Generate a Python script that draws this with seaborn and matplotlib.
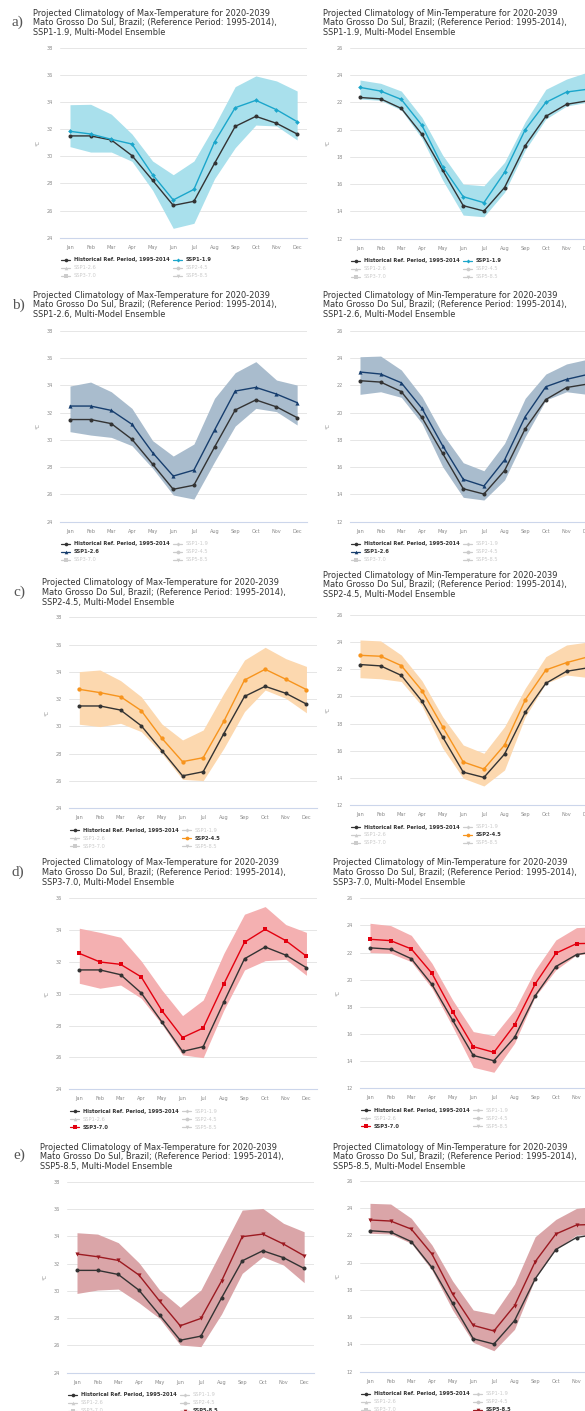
import matplotlib
matplotlib.use("Agg")
import matplotlib.pyplot as plt
import numpy as np
import pandas as pd
import seaborn as sns
from matplotlib.lines import Line2D

# ---------------------------------------------------------------- data
MONTHS = ["Jan", "Feb", "Mar", "Apr", "May", "Jun",
          "Jul", "Aug", "Sep", "Oct", "Nov", "Dec"]
HIST_LABEL = "Historical Ref. Period, 1995-2014"
SCENARIOS = ["SSP1-1.9", "SSP1-2.6", "SSP2-4.5", "SSP3-7.0", "SSP5-8.5"]

tmax_hist = [31.5, 31.5, 31.2, 30.05, 28.23, 26.38, 26.68, 29.48, 32.2, 32.94, 32.43, 31.64]
tmin_hist = [22.35, 22.25, 21.55, 19.65, 17.02, 14.42, 14.03, 15.75, 18.82, 20.97, 21.85, 22.1]

# SSP1-1.9
tmax_ssp119 = [31.84, 31.64, 31.25, 30.9, 28.64, 26.78, 27.56, 31.05, 33.58, 34.12, 33.43, 32.55]
tmax_ssp119_hi = [33.8, 33.83, 33.1, 31.64, 29.65, 28.64, 29.65, 32.26, 35.13, 35.92, 35.55, 34.81]
tmax_ssp119_lo = [30.71, 30.31, 30.31, 29.63, 27.5, 24.69, 25.06, 28.35, 30.63, 32.3, 32.23, 31.2]
tmin_ssp119 = [23.09, 22.82, 22.21, 20.31, 17.28, 15.08, 14.64, 16.86, 19.99, 21.99, 22.75, 22.95]
tmin_ssp119_hi = [23.63, 23.39, 22.82, 20.89, 18.13, 16.0, 15.88, 17.6, 20.58, 22.95, 23.7, 24.2]
tmin_ssp119_lo = [22.24, 22.14, 21.43, 19.35, 16.3, 13.73, 13.61, 15.4, 18.5, 20.77, 21.72, 22.0]

# SSP1-2.6
tmax_ssp126 = [32.49, 32.49, 32.17, 31.15, 29.07, 27.35, 27.79, 30.73, 33.59, 33.86, 33.37, 32.74]
tmax_ssp126_hi = [33.96, 34.25, 33.54, 32.32, 29.95, 28.82, 29.7, 33.06, 34.94, 35.75, 34.4, 34.03]
tmax_ssp126_lo = [30.61, 30.36, 30.19, 29.58, 27.92, 25.96, 25.66, 28.4, 31.02, 32.32, 32.08, 31.1]
tmin_ssp126 = [22.99, 22.84, 22.2, 20.32, 17.58, 15.11, 14.62, 16.53, 19.71, 21.91, 22.45, 22.8]
tmin_ssp126_hi = [24.11, 24.16, 23.14, 21.18, 18.44, 16.33, 15.74, 17.75, 21.06, 22.84, 23.58, 23.92]
tmin_ssp126_lo = [21.35, 21.54, 21.13, 19.22, 16.04, 13.79, 13.59, 15.06, 18.24, 20.93, 21.54, 21.35]

# SSP2-4.5
tmax_ssp245 = [32.72, 32.48, 32.18, 31.16, 29.13, 27.42, 27.71, 30.38, 33.4, 34.19, 33.46, 32.7]
tmax_ssp245_hi = [34.02, 34.14, 33.36, 32.18, 30.18, 29.01, 29.74, 32.43, 34.87, 35.8, 34.97, 34.4]
tmax_ssp245_lo = [30.16, 29.99, 30.23, 29.62, 28.03, 26.12, 26.03, 28.4, 31.09, 32.67, 32.06, 31.0]
tmin_ssp245 = [23.03, 22.96, 22.27, 20.43, 17.77, 15.17, 14.65, 16.42, 19.74, 21.95, 22.49, 22.9]
tmin_ssp245_hi = [24.16, 24.09, 23.05, 21.16, 18.51, 16.42, 15.81, 17.77, 20.6, 22.93, 23.79, 24.0]
tmin_ssp245_lo = [21.38, 21.3, 21.1, 19.3, 16.2, 13.97, 13.4, 14.58, 18.5, 20.97, 21.58, 21.4]

# SSP3-7.0
tmax_ssp370 = [32.54, 32.0, 31.85, 31.06, 28.94, 27.25, 27.85, 30.62, 33.24, 34.05, 33.34, 32.36]
tmax_ssp370_hi = [34.12, 33.86, 33.55, 32.06, 30.24, 28.63, 29.61, 32.54, 35.0, 35.48, 34.35, 33.86]
tmax_ssp370_lo = [30.66, 30.35, 30.55, 29.72, 28.08, 26.16, 25.99, 28.98, 31.5, 32.08, 32.17, 31.16]
tmin_ssp370 = [22.98, 22.88, 22.27, 20.47, 17.65, 15.07, 14.65, 16.67, 19.69, 21.95, 22.66, 22.69]
tmin_ssp370_hi = [24.16, 23.99, 23.27, 21.21, 18.51, 16.18, 15.88, 17.77, 20.72, 22.93, 23.84, 23.91]
tmin_ssp370_lo = [22.0, 21.95, 21.33, 19.37, 16.54, 13.55, 13.18, 15.32, 18.76, 20.72, 21.83, 22.0]

# SSP5-8.5
tmax_ssp585 = [32.7, 32.5, 32.23, 31.16, 29.25, 27.44, 27.98, 30.72, 33.97, 34.16, 33.43, 32.57]
tmax_ssp585_hi = [34.26, 34.16, 33.53, 32.06, 30.06, 28.79, 30.06, 32.99, 35.92, 36.04, 34.95, 34.33]
tmax_ssp585_lo = [29.81, 30.06, 30.13, 29.13, 27.98, 26.03, 25.91, 28.3, 31.28, 32.5, 31.89, 30.6]
tmin_ssp585 = [23.14, 23.06, 22.47, 20.64, 17.7, 15.4, 14.99, 16.85, 20.08, 22.11, 22.77, 22.82]
tmin_ssp585_hi = [24.36, 24.31, 23.26, 21.3, 18.66, 16.53, 16.23, 18.44, 21.91, 23.18, 23.99, 24.16]
tmin_ssp585_lo = [22.16, 22.11, 21.42, 19.46, 16.53, 14.15, 13.54, 15.11, 18.85, 20.98, 22.03, 22.1]

TMAX = {
    "SSP1-1.9": (tmax_ssp119, tmax_ssp119_lo, tmax_ssp119_hi),
    "SSP1-2.6": (tmax_ssp126, tmax_ssp126_lo, tmax_ssp126_hi),
    "SSP2-4.5": (tmax_ssp245, tmax_ssp245_lo, tmax_ssp245_hi),
    "SSP3-7.0": (tmax_ssp370, tmax_ssp370_lo, tmax_ssp370_hi),
    "SSP5-8.5": (tmax_ssp585, tmax_ssp585_lo, tmax_ssp585_hi),
}
TMIN = {
    "SSP1-1.9": (tmin_ssp119, tmin_ssp119_lo, tmin_ssp119_hi),
    "SSP1-2.6": (tmin_ssp126, tmin_ssp126_lo, tmin_ssp126_hi),
    "SSP2-4.5": (tmin_ssp245, tmin_ssp245_lo, tmin_ssp245_hi),
    "SSP3-7.0": (tmin_ssp370, tmin_ssp370_lo, tmin_ssp370_hi),
    "SSP5-8.5": (tmin_ssp585, tmin_ssp585_lo, tmin_ssp585_hi),
}

# ---------------------------------------------------------------- styles
LINE_COLORS = {"SSP1-1.9": "#1ba6cb", "SSP1-2.6": "#173e6e", "SSP2-4.5": "#f7941d",
               "SSP3-7.0": "#e3000f", "SSP5-8.5": "#9c1a21"}
BAND_COLORS = {"SSP1-1.9": "#a9e0ec", "SSP1-2.6": "#a9bccd", "SSP2-4.5": "#fcd8af",
               "SSP3-7.0": "#f4b0b1", "SSP5-8.5": "#daa5a8"}
MARKERS = {"SSP1-1.9": "D", "SSP1-2.6": "^", "SSP2-4.5": "o",
           "SSP3-7.0": "s", "SSP5-8.5": "v"}
MSIZE = {"SSP1-1.9": 2.0, "SSP1-2.6": 2.6, "SSP2-4.5": 2.7, "SSP3-7.0": 2.5, "SSP5-8.5": 2.6}
HIST_COLOR = "#333333"
INACTIVE = "#cccccc"
TEXT_DARK = "#333333"

W, H = 585, 1411
SP = 20.65  # pixels per month

sns.set_theme(style="white")
plt.rcParams["font.family"] = ["DejaVu Sans"]

fig = plt.figure(figsize=(W / 100, H / 100), dpi=100)
fig.patch.set_facecolor("white")


def fx(x):
    return x / W


def fy(y):
    return 1 - y / H


def draw_legend(left_px, y_px, active):
    entries = [(HIST_LABEL, HIST_COLOR, "o", 2.6, True)]
    for s in SCENARIOS:
        on = s == active
        entries.append((s, LINE_COLORS[s] if on else INACTIVE, MARKERS[s],
                        MSIZE[s], on))
    for i, (name, col, mk, ms, on) in enumerate(entries):
        r, c = divmod(i, 2)
        mx = left_px + 6 + c * 112
        my = y_px + r * 8
        ln = Line2D([fx(mx - 4.5), fx(mx), fx(mx + 4.5)], [fy(my)] * 3,
                    transform=fig.transFigure, color=col, lw=0.9,
                    marker=mk, markersize=ms, markevery=[1],
                    markeredgewidth=0)
        fig.add_artist(ln)
        fig.text(fx(mx + 8), fy(my), name, ha="left", va="center",
                 fontsize=3.7, color=TEXT_DARK if on else INACTIVE,
                 fontweight="bold" if on else "normal")


def draw_panel(geom, variable, scen):
    jan, top, bot, tx, ty, ylo, yhi = geom
    left = jan - SP / 2
    ax = fig.add_axes([fx(left), fy(bot), fx(12 * SP), (bot - top) / H])
    ax.set_facecolor("none")

    table = TMAX if variable == "Max" else TMIN
    hist = tmax_hist if variable == "Max" else tmin_hist
    mean, lo, hi = table[scen]
    df = pd.DataFrame({"month": np.arange(12), "hist": hist,
                       "mean": mean, "lo": lo, "hi": hi})

    ax.fill_between(df["month"], df["lo"], df["hi"], color=BAND_COLORS[scen],
                    linewidth=0, zorder=1)
    sns.lineplot(data=df, x="month", y="hist", ax=ax, color=HIST_COLOR,
                 marker="o", markersize=2.9, markeredgewidth=0, linewidth=1.0,
                 zorder=3)
    sns.lineplot(data=df, x="month", y="mean", ax=ax, color=LINE_COLORS[scen],
                 marker=MARKERS[scen], markersize=MSIZE[scen] + 0.4,
                 markeredgewidth=0, linewidth=1.0, zorder=4)

    ax.set_xlim(-0.5, 11.5)
    ax.set_ylim(ylo, yhi)
    ax.set_xticks(range(12))
    ax.set_xticklabels(MONTHS)
    ax.set_yticks(range(ylo, yhi + 1, 2))
    ax.yaxis.grid(True, color="#e6e6e6", linewidth=0.7, zorder=0)
    ax.xaxis.grid(False)
    for side in ("top", "left", "right"):
        ax.spines[side].set_visible(False)
    ax.spines["bottom"].set_color("#ccd6eb")
    ax.spines["bottom"].set_linewidth(0.8)
    ax.tick_params(axis="both", length=0, labelsize=3.6, labelcolor="#8a8a8a")
    ax.tick_params(axis="x", pad=5)
    ax.tick_params(axis="y", pad=5)
    ax.set_xlabel("")
    ax.set_ylabel("")
    fig.text(fx(left - 22), fy((top + bot) / 2), "°C", rotation=90,
             ha="center", va="center", fontsize=3.6, color="#8a8a8a")

    lines = [f"Projected Climatology of {variable}-Temperature for 2020-2039",
             "Mato Grosso Do Sul, Brazil; (Reference Period: 1995-2014),",
             f"{scen}, Multi-Model Ensemble"]
    for k, t in enumerate(lines):
        fig.text(fx(tx), fy(ty + k * 9.8), t, ha="left", va="center",
                 fontsize=5.95, color=TEXT_DARK)

    draw_legend(left, bot + 22, scen)


# panel placement in pixels: jan_x, top, bottom, title_x, title_y, ymin, ymax
ROWS = [
    ("a)", (12, 22), "SSP1-1.9",
     (70, 47.7, 237.7, 33, 13, 24, 38), (360, 47.7, 238.7, 323, 13, 12, 26)),
    ("b)", (12, 305), "SSP1-2.6",
     (70, 331, 521.7, 33, 295, 24, 38), (360, 331, 521.7, 323, 295, 12, 26)),
    ("c)", (13, 592), "SSP2-4.5",
     (79.3, 617.3, 808.3, 42, 583, 24, 38), (360, 615, 805, 323, 575, 12, 26)),
    ("d)", (12, 872), "SSP3-7.0",
     (79.3, 898.3, 1089.3, 42, 863, 24, 36), (370, 898.3, 1088.3, 333, 863, 12, 26)),
    ("e)", (13, 1155), "SSP5-8.5",
     (77, 1181.7, 1372.7, 40, 1147, 24, 38), (370, 1181, 1371.7, 333, 1147, 12, 26)),
]

for tag, (lx, ly), scen, gmax, gmin in ROWS:
    draw_panel(gmax, "Max", scen)
    draw_panel(gmin, "Min", scen)
    fig.text(fx(lx), fy(ly), tag, ha="left", va="center", fontsize=11,
             family=["Liberation Serif", "DejaVu Serif"], color="#555555")

fig.savefig("out.png", dpi=100, facecolor="white")
